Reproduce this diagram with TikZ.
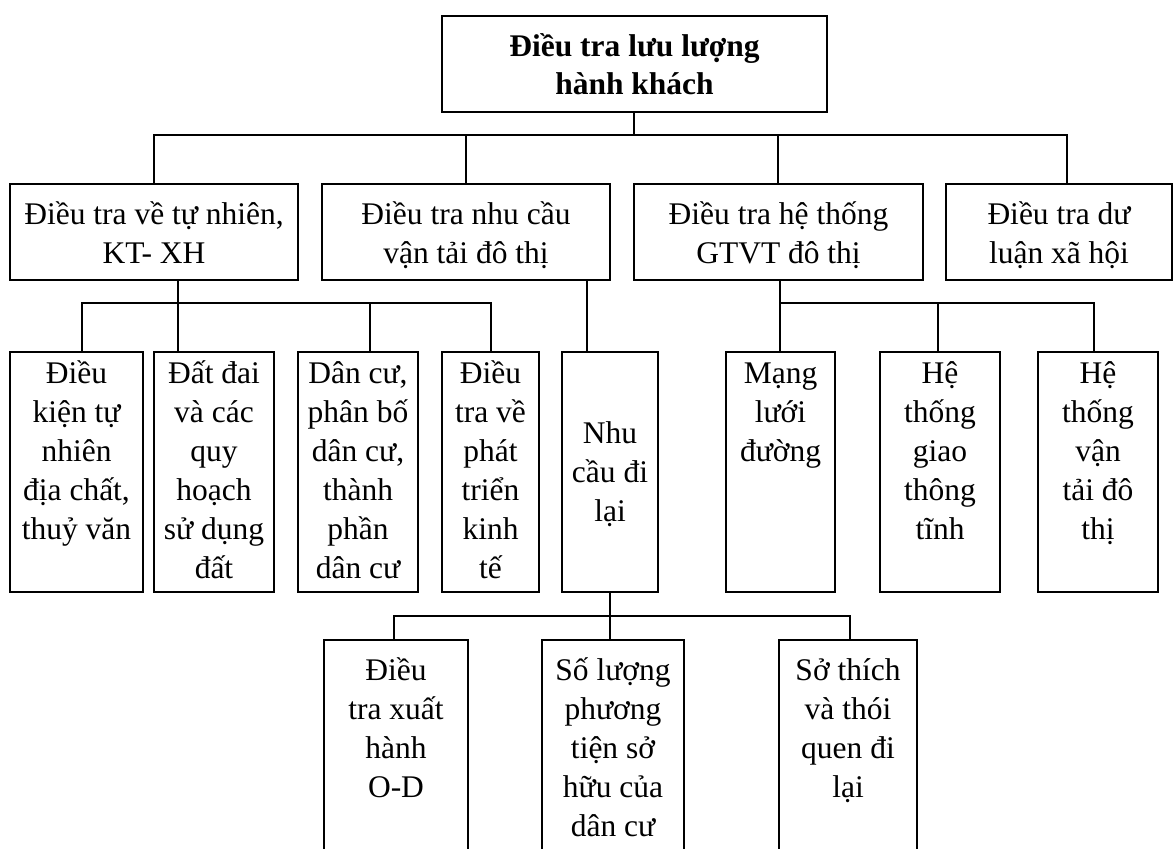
\documentclass[tikz,border=0pt]{standalone}
\usepackage{fontspec}
\setmainfont{Liberation Serif}
\newcommand\cellstack[1]{\begin{tabular}[t]{@{}c@{}}#1\end{tabular}}
\begin{document}
\begin{tikzpicture}[x=1pt,y=-1pt,
  box/.style={draw, rectangle, line width=1.8pt, inner sep=0pt, outer sep=0pt},
  conn/.style={line width=1.6pt},
  lbl/.style={anchor=base, inner sep=0pt, font=\fontsize{31.5}{39}\selectfont},
  ]
\useasboundingbox (0,0) rectangle (1174,848);

% root
\node[box, minimum width=385pt, minimum height=96pt] (root) at (634.5,64) {};
\node[lbl, font=\bfseries\fontsize{31.5}{38}\selectfont] (rootT) at (634.5,57)
  {\cellstack{Điều tra lưu lượng\\hành khách}};

% second level
\node[box, minimum width=288pt, minimum height=96pt] (nat) at (154,232) {};
\node[box, minimum width=288pt, minimum height=96pt] (demand) at (466,232) {};
\node[box, minimum width=289pt, minimum height=96pt] (sys) at (778.5,232) {};
\node[box, minimum width=226pt, minimum height=96pt] (opinion) at (1059,232) {};
\node[lbl] (natT) at (154,224) {\cellstack{Điều tra về tự nhiên,\\KT- XH}};
\node[lbl] (demandT) at (466,224) {\cellstack{Điều tra nhu cầu\\vận tải đô thị}};
\node[lbl] (sysT) at (778.5,224) {\cellstack{Điều tra hệ thống\\GTVT đô thị}};
\node[lbl] (opinionT) at (1059,224) {\cellstack{Điều tra dư\\luận xã hội}};

% third level
\node[box, minimum width=133pt, minimum height=240pt] (env) at (76.5,472) {};
\node[box, minimum width=120pt, minimum height=240pt] (land) at (214,472) {};
\node[box, minimum width=120pt, minimum height=240pt] (pop) at (358,472) {};
\node[box, minimum width=97pt, minimum height=240pt] (econ) at (490.5,472) {};
\node[box, minimum width=96pt, minimum height=240pt] (travel) at (610,472) {};
\node[box, minimum width=109pt, minimum height=240pt] (road) at (780.5,472) {};
\node[box, minimum width=120pt, minimum height=240pt] (static) at (940,472) {};
\node[box, minimum width=120pt, minimum height=240pt] (transit) at (1098,472) {};
\node[lbl] (envT) at (76.5,383) {\cellstack{Điều\\kiện tự\\nhiên\\địa chất,\\thuỷ văn}};
\node[lbl] (landT) at (214,383) {\cellstack{Đất đai\\và các\\quy\\hoạch\\sử dụng\\đất}};
\node[lbl] (popT) at (358,383) {\cellstack{Dân cư,\\phân bố\\dân cư,\\thành\\phần\\dân cư}};
\node[lbl] (econT) at (490.5,383) {\cellstack{Điều\\tra về\\phát\\triển\\kinh\\tế}};
\node[lbl] (travelT) at (610,443) {\cellstack{Nhu\\cầu đi\\lại}};
\node[lbl] (roadT) at (780.5,383) {\cellstack{Mạng\\lưới\\đường}};
\node[lbl] (staticT) at (940,383) {\cellstack{Hệ\\thống\\giao\\thông\\tĩnh}};
\node[lbl] (transitT) at (1098,383) {\cellstack{Hệ\\thống\\vận\\tải đô\\thị}};

% fourth level (runs past the lower edge)
\node[box, minimum width=144pt, minimum height=230pt] (od) at (396,755) {};
\node[box, minimum width=142pt, minimum height=230pt] (own) at (613,755) {};
\node[box, minimum width=138pt, minimum height=230pt] (habit) at (848,755) {};
\node[lbl] (odT) at (396,680) {\cellstack{Điều\\tra xuất\\hành\\O-D}};
\node[lbl] (ownT) at (613,680) {\cellstack{Số lượng\\phương\\tiện sở\\hữu của\\dân cư}};
\node[lbl] (habitT) at (848,680) {\cellstack{Sở thích\\và thói\\quen đi\\lại}};

% bus lines and junctions
\coordinate (rootJ) at (634,135);
\coordinate (sysTop) at (778,135);
\coordinate (busL) at (154,135);
\coordinate (busR) at (1067,135);
\coordinate (natJ) at (178,303);
\coordinate (natL) at (82,303);
\coordinate (natR) at (491,303);
\coordinate (popJ) at (370,303);
\coordinate (demJ) at (587,303);
\coordinate (sysJ) at (780,303);
\coordinate (sysM) at (938,303);
\coordinate (sysR) at (1094,303);
\coordinate (trvJ) at (610,616);
\coordinate (trvL) at (394,616);
\coordinate (trvR) at (850,616);

% root branches
\draw[conn] (rootJ |- root.south) -- (rootJ);
\draw[conn] (nat.north) -- (busL) -- (busR) -- (busR |- opinion.north);
\draw[conn] (demand.north) -- (demand.north |- busL);
\draw[conn] (sysTop |- sys.north) -- (sysTop);

% natural / socio-economic branches
\draw[conn] (natJ |- nat.south) -- (natJ |- land.north);
\draw[conn] (natL |- env.north) -- (natL) -- (natR) -- (natR |- econ.north);
\draw[conn] (popJ) -- (popJ |- pop.north);

% travel demand branch
\draw[conn] (demJ |- demand.south) -- (demJ |- travel.north);

% transport system branches
\draw[conn] (sysJ |- sys.south) -- (sysJ |- road.north);
\draw[conn] (sysJ) -- (sysR) -- (sysR |- transit.north);
\draw[conn] (sysM) -- (sysM |- static.north);

% travel survey branches
\draw[conn] (trvJ |- travel.south) -- (trvJ |- own.north);
\draw[conn] (trvL |- od.north) -- (trvL) -- (trvR) -- (trvR |- habit.north);
\end{tikzpicture}
\end{document}
